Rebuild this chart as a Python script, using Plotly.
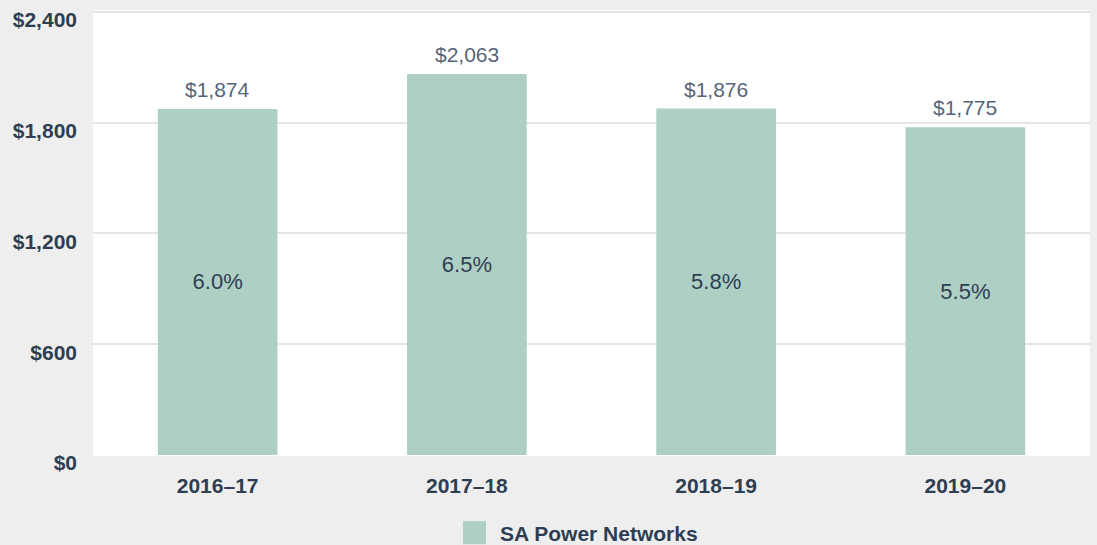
import plotly.graph_objects as go

categories = ["2016–17", "2017–18", "2018–19", "2019–20"]
values = [1874, 2063, 1876, 1775]
percents = ["6.0%", "6.5%", "5.8%", "5.5%"]
value_labels = ["$1,874", "$2,063", "$1,876", "$1,775"]
y_ticks = [0, 600, 1200, 1800, 2400]
y_tick_text = ["$0", "$600", "$1,200", "$1,800", "$2,400"]
series_name = "SA Power Networks"

BAR = "#aecfc4"
DARK = "#2e3e52"
GRAY = "#56657a"
FONT = "Liberation Sans"
FS = 21

fig = go.Figure()
fig.add_trace(go.Bar(
    x=categories, y=values, name=series_name,
    marker=dict(color=BAR, line=dict(width=0)),
    width=0.48,
    text=percents, textposition="inside", insidetextanchor="middle",
    textfont=dict(family=FONT, size=22, color=DARK),
    constraintext="none",
    showlegend=False, hoverinfo="skip",
))

for c, v, lab in zip(categories, values, value_labels):
    fig.add_annotation(x=c, y=v, text=lab, showarrow=False,
                       yanchor="bottom", yshift=6,
                       font=dict(family=FONT, size=FS, color=GRAY))

# legend swatch + label
fig.add_shape(type="rect", xref="paper", yref="paper",
              x0=(463 - 93) / 997, x1=(486 - 93) / 997,
              y0=(455 - 521) / 444, y1=(455 - 544) / 444,
              fillcolor=BAR, line=dict(width=0))
fig.add_annotation(xref="paper", yref="paper", x=(498 - 93) / 997,
                   y=(455 - 533) / 444, text=series_name, showarrow=False,
                   xanchor="left", yanchor="middle",
                   font=dict(family=FONT, size=FS, color=DARK, weight="bold"))

fig.update_layout(
    width=1097, height=545,
    margin=dict(l=93, r=7, t=10, b=90),
    paper_bgcolor="#eeeeee", plot_bgcolor="#ffffff",
    bargap=0.52, showlegend=False,
    font=dict(family=FONT, size=FS, color=DARK),
)
fig.update_xaxes(
    showgrid=False, showline=False, zeroline=False, ticks="",
    tickfont=dict(family=FONT, size=FS, color=DARK, weight="bold"),
    ticklabelstandoff=16,
)
fig.update_yaxes(
    range=[0, 2410], tickvals=y_ticks, ticktext=y_tick_text,
    showgrid=True, gridcolor="#e4e4e4", gridwidth=2,
    zeroline=True, zerolinecolor="#ffffff", zerolinewidth=2,
    showline=False, ticks="",
    tickfont=dict(family=FONT, size=FS, color=DARK, weight="bold"),
    ticklabelstandoff=15, ticklabelshift=8,
)

fig.write_html("out.html", config={"displayModeBar": False})

with open("out.html", "r", encoding="utf-8") as f:
    html = f.read()
html = html.replace("<body>", '<body style="margin:0;padding:0;background:#eeeeee;">', 1)
html = html.replace("<head>", '<head><style>html,body{margin:0;padding:0;overflow:hidden;}</style>', 1)
with open("out.html", "w", encoding="utf-8") as f:
    f.write(html)
